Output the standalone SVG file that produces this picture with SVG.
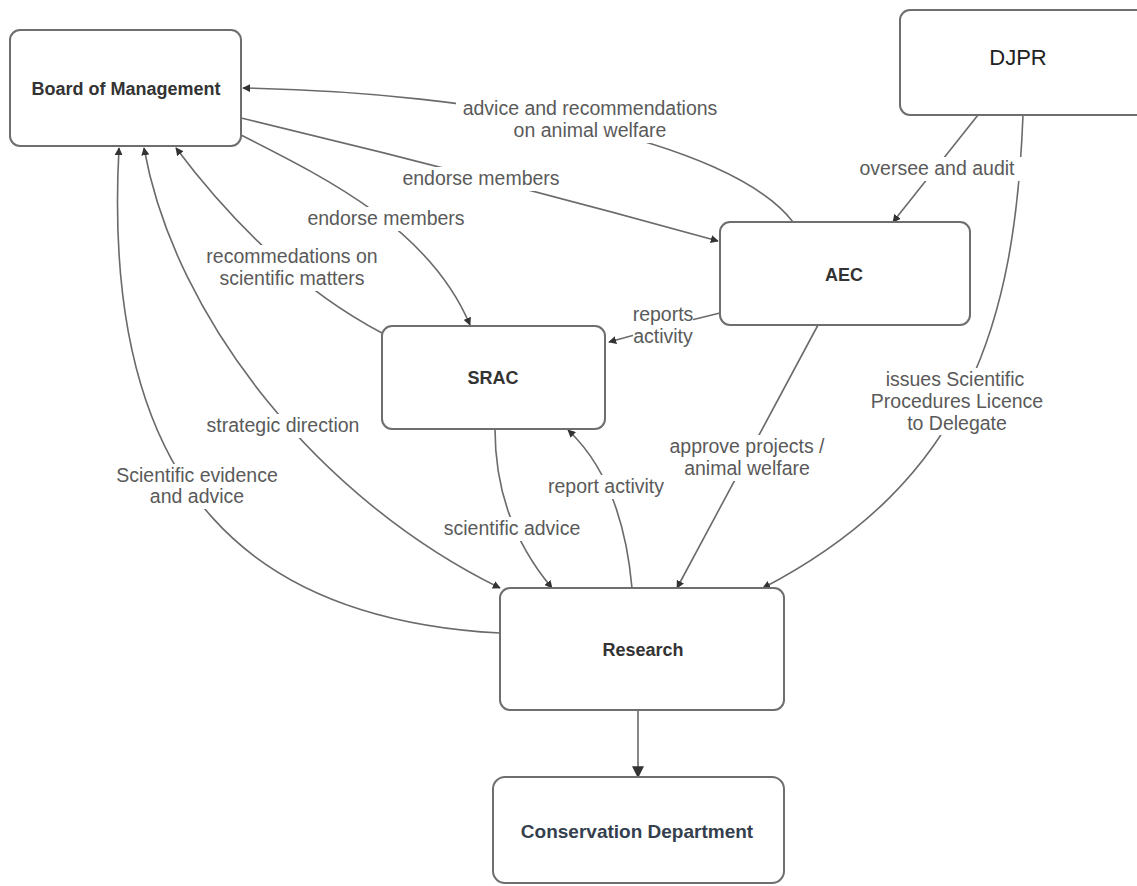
<svg xmlns="http://www.w3.org/2000/svg" width="1137" height="886" viewBox="0 0 1137 886">
<defs>
<style>
.node rect{fill:#fff;stroke:#6e6e6e;stroke-width:2}
.title{font-family:"Liberation Sans",Arial,sans-serif;font-size:18px;font-weight:bold;fill:#333;text-anchor:middle}
.lbl{font-family:"Liberation Sans",Arial,sans-serif;font-size:19.5px;fill:#5a5a5a;text-anchor:middle}
.edge{fill:none;stroke:#6a6a6a;stroke-width:1.6}
.bg{fill:#fff}
</style>
<marker id="ah" viewBox="0 0 10 10" refX="9" refY="5" markerWidth="8" markerHeight="8" markerUnits="userSpaceOnUse" orient="auto-start-reverse">
<path d="M0,0 L10,5 L0,10 z" fill="#333"/>
</marker>
<marker id="ahBig" viewBox="0 0 10 10" refX="9" refY="5" markerWidth="12" markerHeight="12" markerUnits="userSpaceOnUse" orient="auto">
<path d="M0,0 L10,5 L0,10 z" fill="#333"/>
</marker>
</defs>
<rect width="1137" height="886" fill="#fff"/>

<g id="connectors">
<path class="edge" d="M793,222 C730,140 480,92 243,88" marker-end="url(#ah)"/>
<path class="edge" d="M241,118 Q480,175 718,241" marker-end="url(#ah)"/>
<path class="edge" d="M241,135 C330,180 430,230 470,325" marker-end="url(#ah)"/>
<path class="edge" d="M382,333 C300,290 230,220 176,148" marker-end="url(#ah)"/>
<path class="edge" d="M144,148 C175,320 320,500 500,588" marker-start="url(#ah)" marker-end="url(#ah)"/>
<path class="edge" d="M500,633 C260,620 100,500 119,148" marker-end="url(#ah)"/>
<path class="edge" d="M495,429 C495,500 520,550 552,588" marker-end="url(#ah)"/>
<path class="edge" d="M632,588 C625,510 600,460 568,430" marker-end="url(#ah)"/>
<path class="edge" d="M720,313 Q670,325 609,342" marker-end="url(#ah)"/>
<path class="edge" d="M818,325 L677,588" marker-end="url(#ah)"/>
<path class="edge" d="M978,115 L893,222" marker-end="url(#ah)"/>
<path class="edge" d="M1023,115 C1015,320 970,480 763,588" marker-end="url(#ah)"/>
<path class="edge" d="M638,710 L638,777" marker-end="url(#ahBig)"/>

<g id="labels">
<rect class="bg" x="456" y="97" width="270" height="46"/>
<text class="lbl" x="590" y="115">advice and recommendations</text>
<text class="lbl" x="590" y="137">on animal welfare</text>

<rect class="bg" x="396" y="167" width="170" height="24"/>
<text class="lbl" x="481" y="185">endorse members</text>

<rect class="bg" x="301" y="207" width="171" height="24"/>
<text class="lbl" x="386" y="225">endorse members</text>

<rect class="bg" x="200" y="245" width="186" height="46"/>
<text class="lbl" x="292" y="263">recommedations on</text>
<text class="lbl" x="292" y="285">scientific matters</text>

<rect class="bg" x="200" y="414" width="167" height="24"/>
<text class="lbl" x="283" y="432">strategic direction</text>

<rect class="bg" x="110" y="464" width="174" height="45"/>
<text class="lbl" x="197" y="482">Scientific evidence</text>
<text class="lbl" x="197" y="503">and advice</text>

<rect class="bg" x="633" y="305" width="60" height="42"/>
<text class="lbl" x="663" y="321">reports</text>
<text class="lbl" x="663" y="343">activity</text>

<rect class="bg" x="541" y="475" width="131" height="24"/>
<text class="lbl" x="606" y="493">report activity</text>

<rect class="bg" x="438" y="517" width="148" height="24"/>
<text class="lbl" x="512" y="535">scientific advice</text>

<rect class="bg" x="666" y="435" width="162" height="46"/>
<text class="lbl" x="747" y="453">approve projects /</text>
<text class="lbl" x="747" y="475">animal welfare</text>

<rect class="bg" x="852" y="157" width="170" height="24"/>
<text class="lbl" x="937" y="175">oversee and audit</text>

<rect class="bg" x="866" y="368" width="184" height="67"/>
<text class="lbl" x="955" y="386">issues Scientific</text>
<text class="lbl" x="957" y="408">Procedures Licence</text>
<text class="lbl" x="957" y="430">to Delegate</text>
</g>
</g>

<g id="board" class="node">
<rect x="10" y="30" width="231" height="116" rx="10"/>
<text class="title" x="126" y="95">Board of Management</text>
</g>
<g id="djpr" class="node">
<rect x="900" y="10" width="250" height="105" rx="10"/>
<text x="1018" y="65" font-family="Liberation Sans, Arial, sans-serif" font-size="22" fill="#222" text-anchor="middle">DJPR</text>
</g>
<g id="aec" class="node">
<rect x="720" y="222" width="250" height="103" rx="10"/>
<text class="title" x="844" y="281">AEC</text>
</g>
<g id="srac" class="node">
<rect x="382" y="326" width="223" height="103" rx="10"/>
<text class="title" x="493" y="384">SRAC</text>
</g>
<g id="research" class="node">
<rect x="500" y="588" width="284" height="122" rx="10"/>
<text class="title" x="643" y="656">Research</text>
</g>
<g id="conservation" class="node">
<rect x="493" y="777" width="291" height="106" rx="12"/>
<text x="637" y="838" font-family="Liberation Sans, Arial, sans-serif" font-size="19" font-weight="bold" fill="#34404d" text-anchor="middle">Conservation Department</text>
</g>
</svg>
